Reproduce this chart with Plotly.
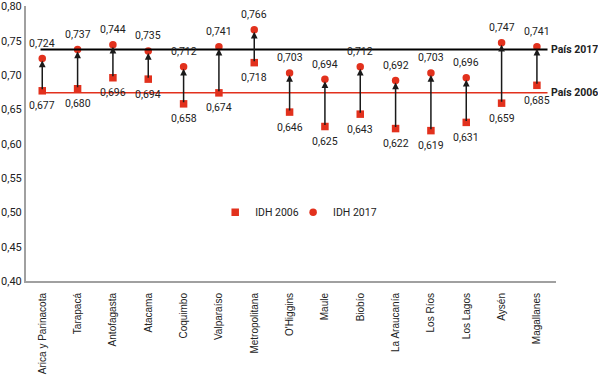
import plotly.graph_objects as go

regions = ["Arica y Parinacota", "Tarapacá", "Antofagasta", "Atacama", "Coquimbo",
           "Valparaíso", "Metropolitana", "O'Higgins", "Maule", "Biobío",
           "La Araucanía", "Los Ríos", "Los Lagos", "Aysén", "Magallanes"]
idh_2006 = [0.677, 0.680, 0.696, 0.694, 0.658, 0.674, 0.718, 0.646, 0.625, 0.643,
            0.622, 0.619, 0.631, 0.659, 0.685]
idh_2017 = [0.724, 0.737, 0.744, 0.735, 0.712, 0.741, 0.766, 0.703, 0.694, 0.712,
            0.692, 0.703, 0.696, 0.747, 0.741]
pais_2017 = 0.737
pais_2006 = 0.674
y_ticks = [0.40, 0.45, 0.50, 0.55, 0.60, 0.65, 0.70, 0.75, 0.80]

RED = "#e2311d"
xs = list(range(len(regions)))

fig = go.Figure()

# reference lines
fig.add_shape(type="line", x0=-0.05, x1=14.3, y0=pais_2017, y1=pais_2017,
              xref="x", yref="y", line=dict(color="black", width=2))
fig.add_shape(type="line", x0=-0.05, x1=14.3, y0=pais_2006, y1=pais_2006,
              xref="x", yref="y", line=dict(color=RED, width=1.5))

fig.add_trace(go.Scatter(x=xs, y=idh_2006, mode="markers", name="IDH 2006",
                         legend="legend",
                         marker=dict(symbol="square", size=7.5, color=RED)))
fig.add_trace(go.Scatter(x=xs, y=idh_2017, mode="markers", name="IDH 2017",
                         legend="legend2",
                         marker=dict(symbol="circle", size=7.5, color=RED)))

ann = []
for i, (a, b) in enumerate(zip(idh_2006, idh_2017)):
    ann.append(dict(x=i, y=b, ax=i, ay=a, xref="x", yref="y", axref="x", ayref="y",
                    showarrow=True, arrowhead=2, arrowsize=0.9, arrowwidth=1.5,
                    arrowcolor="#1a1a1a", standoff=2, text=""))
    ann.append(dict(x=i, y=b, xref="x", yref="y", showarrow=False,
                    text=f"{b:.3f}".replace(".", ","), yshift=15,
                    font=dict(size=10.5, color="#222", family="Roboto")))
    ann.append(dict(x=i, y=a, xref="x", yref="y", showarrow=False,
                    text=f"{a:.3f}".replace(".", ","), yshift=-15,
                    font=dict(size=10.5, color="#222", family="Roboto")))

ann.append(dict(x=14.33, y=pais_2017, xref="x", yref="y", showarrow=False,
                xanchor="left", text="<b>País 2017</b>",
                font=dict(size=10.5, color="#222", family="Roboto")))
ann.append(dict(x=14.33, y=pais_2006, xref="x", yref="y", showarrow=False,
                xanchor="left", text="<b>País 2006</b>",
                font=dict(size=10.5, color="#222", family="Roboto")))

legend_style = dict(orientation="h", xanchor="left", y=0.25, yanchor="middle",
                    font=dict(size=10.5, family="Roboto", color="#222"),
                    bgcolor="rgba(0,0,0,0)", itemwidth=30)

fig.update_layout(
    width=598, height=384,
    margin=dict(l=26, r=42, t=6, b=103, autoexpand=False),
    paper_bgcolor="white", plot_bgcolor="white",
    separators=",.",
    annotations=ann,
    showlegend=True,
    legend=dict(x=0.357, **legend_style),
    legend2=dict(x=0.504, **legend_style),
    font=dict(family="Roboto", color="#222"),
)
fig.update_xaxes(range=[-0.46, 14.54], tickmode="array", tickvals=xs, ticktext=regions,
                 tickangle=-90, showgrid=False, zeroline=False, automargin=False,
                 showline=True, linecolor="#a0a0a0", linewidth=2, ticks="",
                 ticklabelstandoff=6,
                 tickfont=dict(size=10, family="Liberation Sans", color="#222"))
fig.update_yaxes(range=[0.40, 0.8005], tickmode="array", tickvals=y_ticks,
                 ticktext=[f"{v:.2f}".replace(".", ",") for v in y_ticks],
                 showgrid=False, zeroline=False, automargin=False,
                 ticklabeloverflow="allow",
                 showline=True, linecolor="#a0a0a0", linewidth=2, ticks="",
                 tickfont=dict(size=11, family="Roboto", color="#222"))

fig.write_html("out.html", config={"displayModeBar": False},
               post_script="document.body.style.margin='0';document.body.style.overflow='hidden';")
